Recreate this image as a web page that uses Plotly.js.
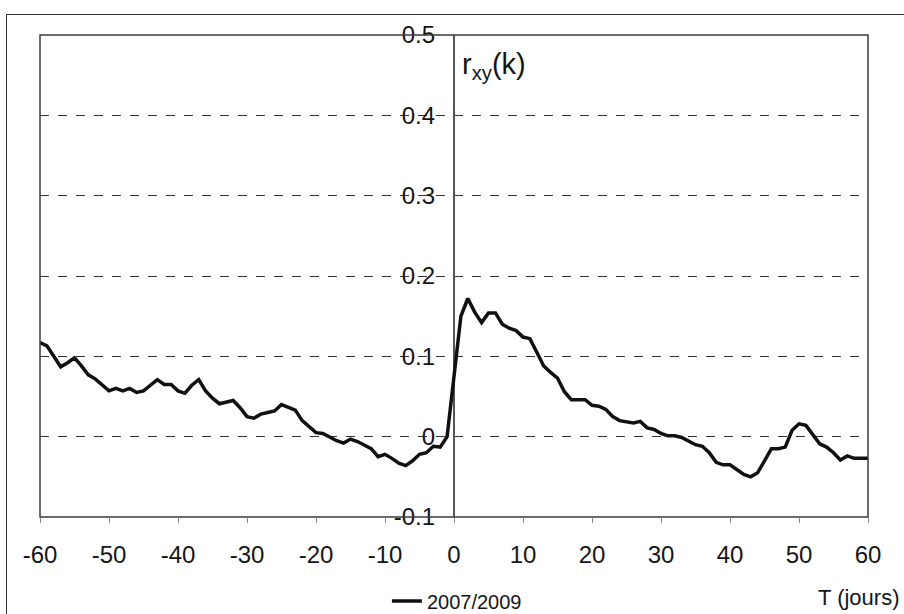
<!DOCTYPE html>
<html>
<head>
<meta charset="utf-8">
<script src="https://cdn.plot.ly/plotly-3.0.1.min.js"></script>
<style>
  html, body { margin: 0; padding: 0; background: #fff; }
  #wrap { position: relative; width: 904px; height: 614px; overflow: hidden; }
  #frame { position: absolute; left: 6px; top: 14px; width: 920px; height: 640px; border: 1px solid #333; box-sizing: border-box; }
  #chart { position: absolute; left: 0; top: 0; width: 904px; height: 614px; }
</style>
</head>
<body>
<div id="wrap">
  <div id="frame"></div>
  <div id="chart"></div>
</div>
<script>
// lag (days)
const lags = [];
for (let k = -60; k <= 60; k++) lags.push(k);

// cross-correlation r_xy(k), series 2007/2009
const rxy = [
  0.117, 0.113, 0.100, 0.087, 0.092, 0.098, 0.088, 0.077, 0.072, 0.064,   // -60..-51
  0.057, 0.060, 0.057, 0.060, 0.055, 0.057, 0.064, 0.071, 0.065, 0.065,   // -50..-41
  0.057, 0.054, 0.064, 0.071, 0.057, 0.048, 0.041, 0.043, 0.045, 0.036,   // -40..-31
  0.025, 0.023, 0.028, 0.030, 0.032, 0.040, 0.037, 0.033, 0.020, 0.012,   // -30..-21
  0.005, 0.004, -0.001, -0.005, -0.008, -0.003, -0.006, -0.011, -0.015, -0.025, // -20..-11
  -0.022, -0.027, -0.033, -0.036, -0.030, -0.022, -0.020, -0.012, -0.013, 0.000, // -10..-1
  0.078,                                                                   // 0
  0.150, 0.172, 0.155, 0.142, 0.154, 0.154, 0.140, 0.135, 0.132, 0.124,   // 1..10
  0.122, 0.105, 0.088, 0.080, 0.073, 0.056, 0.046, 0.046, 0.046, 0.039,   // 11..20
  0.038, 0.034, 0.025, 0.020, 0.019, 0.017, 0.019, 0.011, 0.009, 0.004,   // 21..30
  0.001, 0.001, -0.001, -0.006, -0.010, -0.012, -0.020, -0.032, -0.035, -0.035, // 31..40
  -0.041, -0.047, -0.050, -0.045, -0.030, -0.015, -0.015, -0.013, 0.008, 0.016, // 41..50
  0.014, 0.003, -0.009, -0.013, -0.020, -0.029, -0.024, -0.027, -0.027, -0.027  // 51..60
];

const seriesName = "2007/2009";
const xTickVals = [-60, -50, -40, -30, -20, -10, 0, 10, 20, 30, 40, 50, 60];
const xTickText = ["-60", "-50", "-40", "-30", "-20", "-10", "0", "10", "20", "30", "40", "50", "60"];
const yTickVals = [-0.1, 0, 0.1, 0.2, 0.3, 0.4, 0.5];
const yTickText = ["-0.1", "0", "0.1", "0.2", "0.3", "0.4", "0.5"];
const yTitle = "r<sub>xy</sub>(k)";
const xTitle = "T (jours)";

const FONT = "Liberation Sans, Arial, sans-serif";
const TXT = "#151515";

const trace = {
  x: lags, y: rxy, type: "scatter", mode: "lines", name: seriesName,
  line: { color: "#111", width: 3.5 }
};

const layout = {
  width: 904, height: 614,
  margin: { l: 40, r: 36, t: 35, b: 97 },
  paper_bgcolor: "rgba(0,0,0,0)",
  plot_bgcolor: "rgba(0,0,0,0)",
  font: { family: FONT, size: 20, color: TXT },
  showlegend: true,
  legend: {
    orientation: "h", xref: "container", yref: "container",
    x: 0.428, y: 0.053, xanchor: "left", yanchor: "top",
    font: { family: FONT, size: 20, color: TXT }, bgcolor: "rgba(0,0,0,0)"
  },
  xaxis: {
    range: [-60, 60], tickvals: xTickVals, ticktext: xTickText,
    tickfont: { family: FONT, size: 24, color: TXT },
    showgrid: false, zeroline: true, zerolinecolor: "#555", zerolinewidth: 1.5,
    ticks: "outside", ticklen: 5, tickcolor: "#888", tickwidth: 1,
    ticklabelstandoff: 11, automargin: false,
    showline: false, fixedrange: true
  },
  yaxis: {
    range: [-0.1, 0.5], tickvals: yTickVals, ticktext: yTickText,
    tickfont: { family: FONT, size: 24, color: TXT },
    anchor: "free", position: 0.5, automargin: false,
    showgrid: true, gridcolor: "#333", gridwidth: 1, griddash: "9px,9px",
    zeroline: false, showline: false, ticks: "",
    ticklabelstandoff: 19,
    fixedrange: true
  },
  shapes: [
    { type: "rect", xref: "paper", yref: "paper", x0: 0, x1: 1, y0: 0, y1: 1,
      line: { color: "#3a3a3a", width: 1.5 } }
  ],
  annotations: [
    { text: yTitle, xref: "x", yref: "y", x: 0.8, y: 0.462, xanchor: "left", yanchor: "middle",
      showarrow: false, font: { family: FONT, size: 29, color: TXT } },
    { text: xTitle, xref: "paper", yref: "paper", x: 0.9372, y: -0.168, xanchor: "left", yanchor: "middle",
      showarrow: false, font: { family: FONT, size: 22, color: TXT } }
  ]
};

Plotly.newPlot("chart", [trace], layout, { staticPlot: true, displayModeBar: false });
</script>
</body>
</html>
